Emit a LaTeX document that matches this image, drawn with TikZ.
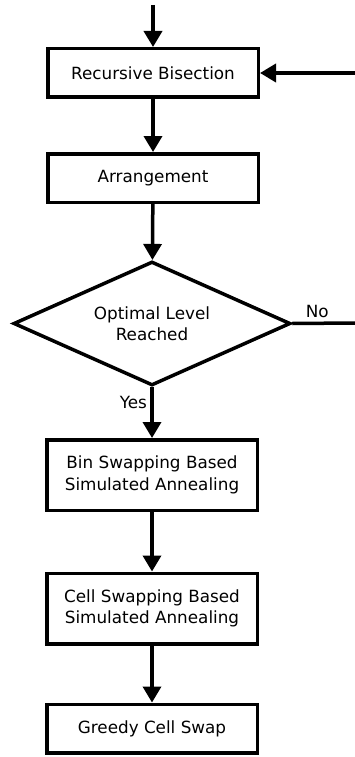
\documentclass[tikz,border=0pt]{standalone}
\usepackage{fontspec}
\setmainfont{DejaVu Sans}
\usetikzlibrary{shapes.geometric,arrows.meta}

\begin{document}
\begin{tikzpicture}[x=1pt,y=-1pt,line width=3.5pt]
        \tikzstyle{every node}=[font=\fontsize{16.8}{21.5}\selectfont]
        \tikzstyle{stage}=[draw, rectangle, minimum width=210.5pt, minimum height=48.5pt, align=center, inner sep=0pt]
        \tikzstyle{decide}=[draw, diamond, aspect=2.2, minimum width=277pt, minimum height=124pt, align=center, inner sep=0pt]
        \tikzstyle{flow}=[-{Triangle[width=18pt,length=16pt]}]
        \useasboundingbox (0,0) rectangle (355,757);
        \node [stage] (bisect) at (153,73) {Recursive Bisection};
        \node [stage] (arrange) at (153,178) {Arrangement};
        \node [decide] (level) at (152,323.5) {Optimal Level\\Reached};
        \node [stage, minimum height=70.5pt] (binsa) at (152,475) {Bin Swapping Based\\Simulated Annealing};
        \node [stage, minimum height=70.5pt] (cellsa) at (152,608.5) {Cell Swapping Based\\Simulated Annealing};
        \node [stage] (greedy) at (152,728.5) {Greedy Cell Swap};
        \coordinate (start) at (153,5);
        \coordinate (back) at (355,73);
        \coordinate (noend) at (355,323);
        \draw [flow] (start) -- (bisect);
        \draw [flow] (back) -- (bisect);
        \draw [flow] (bisect) -- (arrange);
        \draw [flow] (arrange) -- (level);
        \draw [flow] (level) -- node [left, pos=0.3] {Yes} (binsa);
        \draw (level.east) -- node [above, pos=0.4] {No} (noend);
        \draw [flow] (binsa) -- (cellsa);
        \draw [flow] (cellsa) -- (greedy);
    \end{tikzpicture}
\end{document}
